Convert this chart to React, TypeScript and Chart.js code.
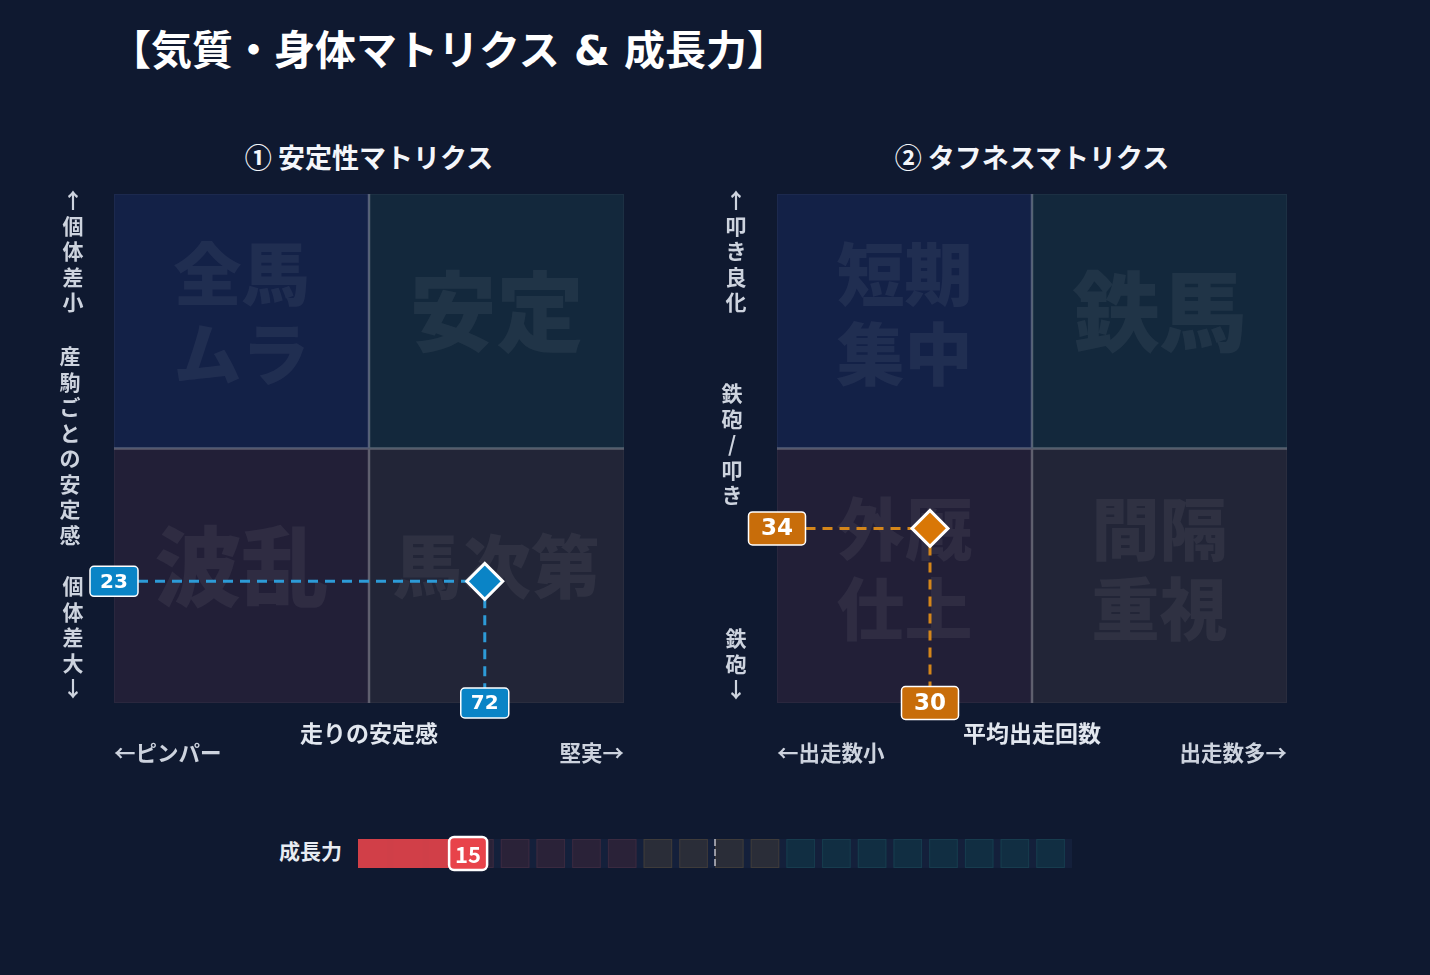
import React, { useEffect, useRef } from 'react';
import { Chart, registerables } from 'chart.js';
Chart.register(...registerables);

const LATIN = '"DejaVu Sans", "Noto Sans CJK JP", sans-serif';
const CJK = '"Noto Sans CJK JP", "DejaVu Sans", sans-serif';
const BG = '#0f1930';

// ---------------- data ----------------
const AXIS_MIN = 0;
const AXIS_MAX = 100;
const AXIS_MID = 50;

// quadrant order: top-left, top-right, bottom-left, bottom-right
const stabilityQuadrantLabels = ['全馬\nムラ', '安定', '波乱', '馬次第'];
const stabilityX = [72.7];
const stabilityY = [23.9];

const toughnessQuadrantLabels = ['短期\n集中', '鉄馬', '外厩\n仕上', '間隔\n重視'];
const toughnessX = [30.0];
const toughnessY = [34.3];

const growthCategories = ['成長力'];
const growthValues = [15];
const growthCellStarts = [0, 5, 10, 15, 20, 25, 30, 35, 40, 45, 50, 55, 60, 65, 70, 75, 80, 85, 90, 95];
const growthCellSpan = 4;
const growthCellZones = ['low', 'low', 'low', 'low', 'low', 'low', 'low', 'low', 'mid', 'mid', 'mid', 'mid', 'high', 'high', 'high', 'high', 'high', 'high', 'high', 'high'];
const growthMidpoint = 50;

const quadFills = ['#132147', '#13283c', '#221f37', '#222537'];
const zoneFill: Record<string, string> = { low: '#2a2238', mid: '#2a2d38', high: '#112e42' };
const zoneBorder: Record<string, string> = { low: '#3a2a40', mid: '#3e3b3a', high: '#173c4e' };

type MatrixProps = {
  left: number; top: number; w: number; h: number;
  pad: { left: number; top: number; right: number; bottom: number };
  xs: number[]; ys: number[]; quadLabels: string[];
  pointColor: string; dashColor: string; boxColor: string;
  boxW: number; boxH: number; boxFont: number;
};

function Matrix(p: MatrixProps) {
  const ref = useRef<HTMLCanvasElement | null>(null);
  useEffect(() => {
    if (!ref.current) return;
    const matrixPlugin = {
      id: 'matrix',
      beforeDatasetsDraw(chart: any) {
        const { ctx, chartArea, scales } = chart;
        const xs = scales.x, ys = scales.y;
        const x0 = xs.getPixelForValue(AXIS_MIN), x1 = xs.getPixelForValue(AXIS_MID), x2 = xs.getPixelForValue(AXIS_MAX);
        const y0 = ys.getPixelForValue(AXIS_MAX), y1 = ys.getPixelForValue(AXIS_MID), y2 = ys.getPixelForValue(AXIS_MIN);
        const rects = [[x0, y0, x1, y1], [x1, y0, x2, y1], [x0, y1, x1, y2], [x1, y1, x2, y2]];
        ctx.save();
        rects.forEach((r, i) => {
          ctx.fillStyle = quadFills[i];
          ctx.fillRect(r[0], r[1], r[2] - r[0], r[3] - r[1]);
          ctx.strokeStyle = 'rgba(255,255,255,0.04)';
          ctx.lineWidth = 1;
          ctx.strokeRect(r[0] + 0.5, r[1] + 0.5, r[2] - r[0] - 1, r[3] - r[1] - 1);
        });
        // watermarks
        ctx.fillStyle = 'rgba(255,255,255,0.06)';
        ctx.textAlign = 'center';
        ctx.textBaseline = 'middle';
        rects.forEach((r, i) => {
          const label = p.quadLabels[i];
          const lines = label.split('\n');
          const cx = (r[0] + r[2]) / 2;
          let cy = (r[1] + r[3]) / 2 - 7;
          let size = 87;
          if (lines.length > 1) size = 68;
          else if (Array.from(label).length > 2) size = 69;
          if (lines.length === 1) cy = (r[1] + r[3]) / 2 - 9;
          ctx.font = `900 ${size}px ${CJK}`;
          const lh = 80;
          lines.forEach((ln, k) => {
            ctx.fillText(ln, cx, cy + (k - (lines.length - 1) / 2) * lh);
          });
        });
        // dividers
        ctx.strokeStyle = 'rgba(255,255,255,0.25)';
        ctx.lineWidth = 2.5;
        ctx.beginPath();
        ctx.moveTo(x1, y0); ctx.lineTo(x1, y2);
        ctx.moveTo(x0, y1); ctx.lineTo(x2, y1);
        ctx.stroke();
        // dashed guides
        const px = xs.getPixelForValue(p.xs[0]);
        const py = ys.getPixelForValue(p.ys[0]);
        ctx.strokeStyle = p.dashColor;
        ctx.lineWidth = 3;
        ctx.setLineDash([10, 7]);
        ctx.beginPath();
        ctx.moveTo(chartArea.left + p.boxW / 2, py); ctx.lineTo(px, py);
        ctx.moveTo(px, py); ctx.lineTo(px, chartArea.bottom - p.boxH / 2);
        ctx.stroke();
        ctx.setLineDash([]);
        ctx.restore();
      },
      afterDatasetsDraw(chart: any) {
        const { ctx, chartArea, scales } = chart;
        const px = scales.x.getPixelForValue(p.xs[0]);
        const py = scales.y.getPixelForValue(p.ys[0]);
        const drawBox = (cx: number, cy: number, text: string) => {
          ctx.save();
          ctx.beginPath();
          ctx.roundRect(cx - p.boxW / 2, cy - p.boxH / 2, p.boxW, p.boxH, 4);
          ctx.fillStyle = p.boxColor;
          ctx.fill();
          ctx.strokeStyle = '#ffffff';
          ctx.lineWidth = 1.5;
          ctx.stroke();
          ctx.fillStyle = '#ffffff';
          ctx.font = `bold ${p.boxFont}px ${LATIN}`;
          ctx.textAlign = 'center';
          ctx.textBaseline = 'middle';
          ctx.fillText(text, cx, cy + 1);
          ctx.restore();
        };
        drawBox(chartArea.left, py, String(Math.floor(p.ys[0])));
        drawBox(px, chartArea.bottom, String(Math.floor(p.xs[0])));
      },
    };
    const chart = new Chart(ref.current, {
      type: 'scatter',
      data: {
        datasets: [{
          data: p.xs.map((x, i) => ({ x, y: p.ys[i] })),
          pointStyle: 'rectRot',
          pointRadius: 18,
          pointHoverRadius: 18,
          backgroundColor: p.pointColor,
          borderColor: '#ffffff',
          borderWidth: 3,
          clip: false,
        }],
      },
      options: {
        responsive: false,
        animation: false,
        devicePixelRatio: 1,
        layout: { padding: p.pad, autoPadding: false },
        scales: {
          x: { type: 'linear', min: AXIS_MIN, max: AXIS_MAX, display: false },
          y: { type: 'linear', min: AXIS_MIN, max: AXIS_MAX, display: false },
        },
        plugins: { legend: { display: false }, tooltip: { enabled: false } },
        events: [],
      },
      plugins: [matrixPlugin],
    } as any);
    return () => chart.destroy();
  }, []);
  return (
    <canvas ref={ref} width={p.w} height={p.h}
      style={{ position: 'absolute', left: p.left, top: p.top, width: p.w, height: p.h }} />
  );
}

function GrowthBar() {
  const ref = useRef<HTMLCanvasElement | null>(null);
  useEffect(() => {
    if (!ref.current) return;
    const plugin = {
      id: 'growth',
      beforeDatasetsDraw(chart: any) {
        const { ctx, chartArea, scales } = chart;
        ctx.save();
        ctx.fillStyle = '#14203b';
        ctx.fillRect(chartArea.left, chartArea.top, chartArea.right - chartArea.left, chartArea.bottom - chartArea.top);
        growthCellStarts.forEach((s, i) => {
          const a = scales.x.getPixelForValue(s);
          const b = scales.x.getPixelForValue(s + growthCellSpan);
          ctx.fillStyle = zoneFill[growthCellZones[i]];
          ctx.fillRect(a, chartArea.top, b - a, chartArea.bottom - chartArea.top);
          ctx.strokeStyle = zoneBorder[growthCellZones[i]];
          ctx.lineWidth = 1;
          ctx.strokeRect(a + 0.5, chartArea.top + 0.5, b - a - 1, chartArea.bottom - chartArea.top - 1);
        });
        ctx.restore();
      },
      afterDatasetsDraw(chart: any) {
        const { ctx, chartArea, scales } = chart;
        ctx.save();
        const mx = scales.x.getPixelForValue(growthMidpoint);
        ctx.strokeStyle = 'rgba(200,200,210,0.7)';
        ctx.lineWidth = 2;
        ctx.setLineDash([7, 3]);
        ctx.beginPath();
        ctx.moveTo(mx, chartArea.top); ctx.lineTo(mx, chartArea.bottom);
        ctx.stroke();
        ctx.setLineDash([]);
        const vx = scales.x.getPixelForValue(growthValues[0]) + 3;
        const cy = (chartArea.top + chartArea.bottom) / 2;
        const bw = 38, bh = 33;
        ctx.beginPath();
        ctx.roundRect(vx - bw / 2, cy - bh / 2, bw, bh, 5);
        ctx.fillStyle = '#e8434a';
        ctx.fill();
        ctx.strokeStyle = '#ffffff';
        ctx.lineWidth = 2.5;
        ctx.stroke();
        ctx.fillStyle = '#ffffff';
        ctx.font = `bold 22px ${CJK}`;
        ctx.textAlign = 'center';
        ctx.textBaseline = 'middle';
        ctx.fillText(String(growthValues[0]), vx, cy + 1);
        ctx.restore();
      },
    };
    const chart = new Chart(ref.current, {
      type: 'bar',
      data: {
        labels: growthCategories,
        datasets: [{
          data: growthValues,
          backgroundColor: 'rgba(222,66,73,0.93)',
          borderWidth: 0,
          barPercentage: 1,
          categoryPercentage: 1,
        }],
      },
      options: {
        indexAxis: 'y',
        responsive: false,
        animation: false,
        devicePixelRatio: 1,
        layout: { padding: { left: 18, right: 28, top: 14, bottom: 17 }, autoPadding: false },
        scales: {
          x: { type: 'linear', min: AXIS_MIN, max: AXIS_MAX, display: false },
          y: { display: false },
        },
        plugins: { legend: { display: false }, tooltip: { enabled: false } },
        events: [],
      },
      plugins: [plugin],
    } as any);
    return () => chart.destroy();
  }, []);
  return (
    <canvas ref={ref} width={760} height={60}
      style={{ position: 'absolute', left: 340, top: 825, width: 760, height: 60 }} />
  );
}

function VText({ x, y, text, color = '#cdd3de' }: { x: number; y: number; text: string; color?: string }) {
  return (
    <div style={{ position: 'absolute', left: x - 15, top: y, width: 30, textAlign: 'center', fontSize: 21, fontWeight: 700, lineHeight: '25.5px', color }}>
      {Array.from(text).map((c, i) => <div key={i}>{c}</div>)}
    </div>
  );
}

function Txt({ x, y, text, align = 'left', size = 20, color = '#cdd3de', font }: { x: number; y: number; text: string; align?: 'left' | 'center' | 'right'; size?: number; color?: string; font?: string }) {
  const style: any = { position: 'absolute', top: y - size * 0.7, fontSize: size, fontWeight: 700, lineHeight: `${size * 1.4}px`, color, whiteSpace: 'nowrap' };
  if (font) style.fontFamily = font;
  if (align === 'left') style.left = x;
  if (align === 'right') style.right = 1430 - x;
  if (align === 'center') { style.left = x - 300; style.width = 600; style.textAlign = 'center'; }
  return <div style={style}>{text}</div>;
}

export default function App() {
  return (
    <div style={{ position: 'fixed', left: 0, top: 0, width: 1430, height: 975, background: BG, fontFamily: CJK, overflow: 'hidden' }}>
      <Txt x={110} y={52} text="【気質・身体マトリクス & 成長力】" size={41} color="#ffffff" font={LATIN} />
      <Txt x={369} y={157} text="① 安定性マトリクス" align="center" size={27} color="#f4f6fa" />
      <Txt x={1032} y={157} text="② タフネスマトリクス" align="center" size={27} color="#f4f6fa" />

      <Matrix left={80} top={180} w={560} h={560}
        pad={{ left: 34, top: 14, right: 16, bottom: 37 }}
        xs={stabilityX} ys={stabilityY} quadLabels={stabilityQuadrantLabels}
        pointColor="#0a84c6" dashColor="#2d9bd7" boxColor="#0a84c6"
        boxW={48} boxH={30} boxFont={20} />
      <Matrix left={740} top={180} w={560} h={560}
        pad={{ left: 37, top: 14, right: 13, bottom: 37 }}
        xs={toughnessX} ys={toughnessY} quadLabels={toughnessQuadrantLabels}
        pointColor="#d97706" dashColor="#d4861a" boxColor="#c86d0a"
        boxW={57} boxH={33} boxFont={23} />

      <VText x={73} y={187} text="↑個体差小" />
      <VText x={70} y={343} text="産駒ごとの安定感" />
      <VText x={73} y={573} text="個体差大↓" />
      <VText x={736} y={187} text="↑叩き良化" />
      <VText x={732} y={380} text="鉄砲/叩き" />
      <VText x={736} y={625} text="鉄砲↓" />

      <Txt x={369} y={732} text="走りの安定感" align="center" size={23} color="#e2e7ef" />
      <Txt x={114} y={752} text="←ピンパー" size={21.5} />
      <Txt x={624} y={752} text="堅実→" align="right" size={21.5} />
      <Txt x={1032} y={732} text="平均出走回数" align="center" size={23} color="#e2e7ef" />
      <Txt x={777} y={752} text="←出走数小" size={21.5} />
      <Txt x={1287} y={752} text="出走数多→" align="right" size={21.5} />

      <Txt x={342} y={851} text="成長力" align="right" size={21} color="#e8ecf2" />
      <GrowthBar />
    </div>
  );
}
